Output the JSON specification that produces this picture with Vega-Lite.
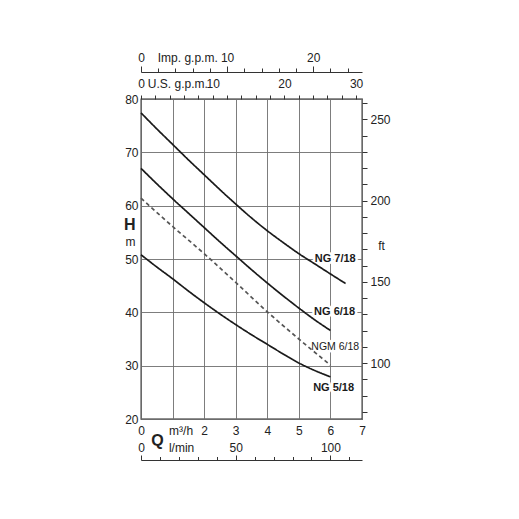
{
  "$schema": "https://vega.github.io/schema/vega-lite/v6.json",
  "width": 221,
  "height": 320,
  "autosize": "none",
  "padding": {"left": 141, "top": 99, "right": 157, "bottom": 100},
  "background": "white",
  "config": {
    "view": {"stroke": "#222", "strokeWidth": 1.3},
    "axis": {"labelFont": "Liberation Sans", "labelFontSize": 12, "labelColor": "#222", "titleFont": "Liberation Sans", "titleColor": "#222", "labelFlush": false, "labelOverlap": false, "labelBound": false, "tickColor": "#333", "domainColor": "#333"}
  },
  "datasets": {
    "curves": [
      {"pump": "NG 7/18", "Q": 0, "H": 77.4}, {"pump": "NG 7/18", "Q": 0.5, "H": 74.4}, {"pump": "NG 7/18", "Q": 1, "H": 71.5}, {"pump": "NG 7/18", "Q": 1.5, "H": 68.6}, {"pump": "NG 7/18", "Q": 2, "H": 65.8}, {"pump": "NG 7/18", "Q": 2.5, "H": 63.0}, {"pump": "NG 7/18", "Q": 3, "H": 60.3}, {"pump": "NG 7/18", "Q": 3.5, "H": 57.7}, {"pump": "NG 7/18", "Q": 4, "H": 55.3}, {"pump": "NG 7/18", "Q": 4.5, "H": 53.1}, {"pump": "NG 7/18", "Q": 5, "H": 51.0}, {"pump": "NG 7/18", "Q": 5.5, "H": 49.1}, {"pump": "NG 7/18", "Q": 6, "H": 47.2}, {"pump": "NG 7/18", "Q": 6.48, "H": 45.4},
      {"pump": "NG 6/18", "Q": 0, "H": 67.0}, {"pump": "NG 6/18", "Q": 0.5, "H": 64.1}, {"pump": "NG 6/18", "Q": 1, "H": 61.3}, {"pump": "NG 6/18", "Q": 1.5, "H": 58.6}, {"pump": "NG 6/18", "Q": 2, "H": 55.9}, {"pump": "NG 6/18", "Q": 2.5, "H": 53.2}, {"pump": "NG 6/18", "Q": 3, "H": 50.6}, {"pump": "NG 6/18", "Q": 3.5, "H": 48.0}, {"pump": "NG 6/18", "Q": 4, "H": 45.5}, {"pump": "NG 6/18", "Q": 4.5, "H": 43.1}, {"pump": "NG 6/18", "Q": 5, "H": 40.8}, {"pump": "NG 6/18", "Q": 5.5, "H": 38.6}, {"pump": "NG 6/18", "Q": 6, "H": 36.6},
      {"pump": "NGM 6/18", "Q": 0, "H": 61.4}, {"pump": "NGM 6/18", "Q": 1, "H": 56.1}, {"pump": "NGM 6/18", "Q": 2, "H": 51.0}, {"pump": "NGM 6/18", "Q": 3, "H": 45.6}, {"pump": "NGM 6/18", "Q": 4, "H": 40.1}, {"pump": "NGM 6/18", "Q": 5, "H": 35.0}, {"pump": "NGM 6/18", "Q": 6, "H": 30.1},
      {"pump": "NG 5/18", "Q": 0, "H": 50.8}, {"pump": "NG 5/18", "Q": 0.5, "H": 48.5}, {"pump": "NG 5/18", "Q": 1, "H": 46.3}, {"pump": "NG 5/18", "Q": 1.5, "H": 44.0}, {"pump": "NG 5/18", "Q": 2, "H": 41.8}, {"pump": "NG 5/18", "Q": 2.5, "H": 39.7}, {"pump": "NG 5/18", "Q": 3, "H": 37.7}, {"pump": "NG 5/18", "Q": 3.5, "H": 35.8}, {"pump": "NG 5/18", "Q": 4, "H": 34.0}, {"pump": "NG 5/18", "Q": 4.5, "H": 32.2}, {"pump": "NG 5/18", "Q": 5, "H": 30.5}, {"pump": "NG 5/18", "Q": 5.5, "H": 29.1}, {"pump": "NG 5/18", "Q": 6, "H": 27.9}
    ],
    "labels": [
      {"label": "NG 7/18", "Q": 6.8, "H": 50.0},
      {"label": "NG 6/18", "Q": 6.78, "H": 40.1},
      {"label": "NGM 6/18", "Q": 6.91, "H": 33.5},
      {"label": "NG 5/18", "Q": 6.75, "H": 25.9}
    ]
  },
  "layer": [
    {
      "data": {"name": "labels"},
      "mark": {"type": "text", "align": "right", "baseline": "middle", "font": "Liberation Sans", "fontSize": {"expr": "datum.label === 'NGM 6/18' ? 10.5 : 11"}, "fontWeight": {"expr": "datum.label === 'NGM 6/18' ? 'normal' : 'bold'"}, "fill": "white", "stroke": "white", "strokeWidth": 5, "strokeJoin": "round"},
      "encoding": {
        "x": {"field": "Q", "type": "quantitative", "scale": {"domain": [0, 7], "nice": false, "zero": false}, "axis": null},
        "y": {"field": "H", "type": "quantitative", "scale": {"domain": [20, 80], "nice": false, "zero": false}, "axis": null},
        "text": {"field": "label"}
      }
    },
    {
      "data": {"name": "labels"},
      "mark": {"type": "text", "align": "right", "baseline": "middle", "font": "Liberation Sans", "fontSize": {"expr": "datum.label === 'NGM 6/18' ? 10.5 : 11"}, "fontWeight": {"expr": "datum.label === 'NGM 6/18' ? 'normal' : 'bold'"}, "fill": "#1a1a1a"},
      "encoding": {
        "x": {"field": "Q", "type": "quantitative", "scale": {"domain": [0, 7], "nice": false, "zero": false}, "axis": null},
        "y": {"field": "H", "type": "quantitative", "scale": {"domain": [20, 80], "nice": false, "zero": false}, "axis": null},
        "text": {"field": "label"}
      }
    },
    {
      "data": {"name": "curves"},
      "mark": {"type": "line", "interpolate": "monotone"},
      "encoding": {
        "x": {"field": "Q", "type": "quantitative", "scale": {"domain": [0, 7], "nice": false, "zero": false},
          "axis": {"orient": "bottom", "values": [0, 1, 2, 3, 4, 5, 6, 7], "labelExpr": "datum.value == 1 ? 'm³/h' : datum.label", "labelAlign": {"condition": {"test": "datum.value == 1", "value": "left"}, "value": "center"}, "labelOffset": {"condition": {"test": "datum.value == 1", "value": -4}, "value": 0}, "labelPadding": 6, "ticks": false, "domain": false, "grid": true, "gridColor": "#6e6e6e", "gridWidth": 0.9, "title": "Q", "titleX": 16, "titleY": 21, "titleAngle": 0, "titleAlign": "center", "titleBaseline": "middle", "titleFontSize": 16, "titleFontWeight": "bold"}},
        "y": {"field": "H", "type": "quantitative", "scale": {"domain": [20, 80], "nice": false, "zero": false},
          "axis": {"orient": "left", "values": [20, 30, 40, 50, 60, 70, 80, 56.4, 53.2], "labelExpr": "datum.value == 56.4 ? 'H' : datum.value == 53.2 ? 'm' : datum.label", "labelFontSize": {"condition": {"test": "datum.value == 56.4", "value": 16}, "value": 12}, "labelFontWeight": {"condition": {"test": "datum.value == 56.4", "value": "bold"}, "value": "normal"}, "labelPadding": {"condition": {"test": "datum.value == 56.4 || datum.value == 53.2", "value": 6}, "value": 3}, "gridOpacity": {"condition": {"test": "datum.value == 56.4 || datum.value == 53.2", "value": 0}, "value": 1}, "ticks": false, "domain": false, "grid": true, "gridColor": "#6e6e6e", "gridWidth": 0.9, "title": null}},
        "detail": {"field": "pump", "type": "nominal"},
        "strokeDash": {"field": "pump", "type": "nominal", "scale": {"domain": ["NG 7/18", "NG 6/18", "NGM 6/18", "NG 5/18"], "range": [[1, 0], [1, 0], [4, 3], [1, 0]]}, "legend": null},
        "color": {"field": "pump", "type": "nominal", "scale": {"domain": ["NG 7/18", "NG 6/18", "NGM 6/18", "NG 5/18"], "range": ["#1a1a1a", "#1a1a1a", "#555555", "#1a1a1a"]}, "legend": null},
        "strokeWidth": {"field": "pump", "type": "nominal", "scale": {"domain": ["NG 7/18", "NG 6/18", "NGM 6/18", "NG 5/18"], "range": [1.7, 1.7, 1, 1.7]}, "legend": null}
      }
    },
    {
      "data": {"values": [{}]},
      "mark": {"type": "rule", "opacity": 0},
      "encoding": {
        "x": {"datum": 0, "type": "quantitative", "scale": {"domain": [0, 116.6667], "nice": false, "zero": false},
          "axis": {"orient": "top", "offset": -361, "values": [0, 10, 20, 30, 40, 50, 60, 70, 80, 90, 100, 110], "labelExpr": "datum.value == 20 ? 'l/min' : (datum.value % 50 == 0 ? datum.label : '')", "labelAlign": {"condition": {"test": "datum.value == 20", "value": "left"}, "value": "center"}, "labelOffset": {"condition": {"test": "datum.value == 20", "value": -10.5}, "value": 0}, "tickSize": {"condition": {"test": "datum.value % 50 == 0", "value": 5}, "value": 3.5}, "labelPadding": {"condition": {"test": "datum.value == 20", "value": 2.5}, "value": 1}, "domain": true, "grid": false, "title": null}}
      }
    },
    {
      "data": {"values": [{}]},
      "mark": {"type": "rule", "opacity": 0},
      "encoding": {
        "x": {"datum": 0, "type": "quantitative", "scale": {"domain": [0, 30.82], "nice": false, "zero": false},
          "axis": {"orient": "top", "offset": 0, "values": [0, 2, 4, 6, 8, 10, 12, 14, 16, 18, 20, 22, 24, 26, 28, 30], "labelExpr": "datum.value == 2 ? 'U.S. g.p.m.' : (datum.value % 10 == 0 ? datum.label : '')", "labelAlign": {"condition": {"test": "datum.value == 2", "value": "left"}, "value": "center"}, "labelOffset": {"condition": {"test": "datum.value == 2", "value": -8}, "value": 0}, "tickSize": 4, "labelPadding": 5, "domain": false, "grid": false, "title": null}}
      }
    },
    {
      "data": {"values": [{}]},
      "mark": {"type": "rule", "opacity": 0},
      "encoding": {
        "x": {"datum": 0, "type": "quantitative", "scale": {"domain": [0, 25.663], "nice": false, "zero": false},
          "axis": {"orient": "top", "offset": 27, "values": [0, 2, 4, 6, 8, 10, 12, 14, 16, 18, 20, 22, 24], "labelExpr": "datum.value == 2 ? 'Imp. g.p.m.' : (datum.value % 10 == 0 ? datum.label : '')", "labelAlign": {"condition": {"test": "datum.value == 2", "value": "left"}, "value": "center"}, "labelOffset": {"condition": {"test": "datum.value == 2", "value": -1}, "value": 0}, "tickSize": {"condition": {"test": "datum.value % 10 == 0", "value": 6}, "value": 4}, "labelPadding": {"condition": {"test": "datum.value == 2", "value": 3.5}, "value": 1.5}, "domain": true, "grid": false, "title": null}}
      }
    },
    {
      "data": {"values": [{}]},
      "mark": {"type": "rule", "opacity": 0},
      "encoding": {
        "y": {"datum": 100, "type": "quantitative", "scale": {"domain": [65.617, 262.467], "nice": false, "zero": false},
          "axis": {"orient": "right", "values": [70, 80, 90, 100, 110, 120, 130, 140, 150, 160, 170, 180, 190, 200, 210, 220, 230, 240, 250, 260], "labelExpr": "datum.value % 50 == 0 ? datum.label : ''", "tickSize": 5, "labelPadding": 3, "domain": false, "grid": false, "title": "ft", "titleAngle": 0, "titleX": 19, "titleY": 146, "titleAlign": "center", "titleBaseline": "middle", "titleFontSize": 12, "titleFontWeight": "normal"}}
      }
    }
  ],
  "resolve": {"scale": {"x": "independent", "y": "independent", "strokeDash": "shared", "color": "shared", "strokeWidth": "shared"}}
}
